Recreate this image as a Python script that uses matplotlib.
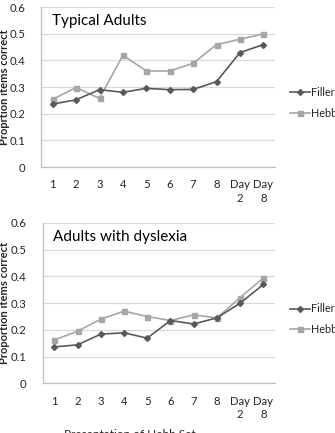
import matplotlib
matplotlib.use("Agg")
import matplotlib.pyplot as plt
import numpy as np

plt.rcParams['font.family'] = ['Lato', 'DejaVu Sans']

categories = ["1", "2", "3", "4", "5", "6", "7", "8", "Day\n2", "Day\n8"]
typical_filler = [0.236, 0.252, 0.290, 0.280, 0.295, 0.290, 0.291, 0.320, 0.429, 0.459]
typical_hebb = [0.254, 0.298, 0.257, 0.419, 0.360, 0.360, 0.389, 0.459, 0.479, 0.499]
dys_filler = [0.136, 0.144, 0.184, 0.189, 0.169, 0.235, 0.222, 0.245, 0.300, 0.370]
dys_hebb = [0.162, 0.195, 0.240, 0.270, 0.250, 0.235, 0.256, 0.245, 0.321, 0.394]
yticks = [0, 0.1, 0.2, 0.3, 0.4, 0.5, 0.6]
ytick_labels = ["0", "0.1", "0.2", "0.3", "0.4", "0.5", "0.6"]

W, H = 335, 433
fig = plt.figure(figsize=(W / 100, H / 100), dpi=100)

DARK = "#595959"
LIGHT = "#a6a6a6"
GRID = "#d9d9d9"
AXIS = "#bfbfbf"
TXT = "#262626"


def panel(rect, left_px, filler, hebb, title, ylabel):
    ax = fig.add_axes(rect)
    x = np.arange(len(categories))
    ax.plot(x, filler, color=DARK, lw=1.2, marker="D", ms=3, label="Filler", zorder=3)
    ax.plot(x, hebb, color=LIGHT, lw=1.2, marker="s", ms=3.6, label="Hebb", zorder=2)
    ax.set_xlim(-0.5, len(categories) - 0.5)
    ax.set_ylim(0, 0.6)
    ax.set_yticks(yticks)
    ax.set_yticklabels(ytick_labels)
    ax.set_xticks(x)
    ax.set_xticklabels(categories, linespacing=1.25)
    ax.tick_params(axis="both", length=0, labelsize=8.2, colors=TXT)
    ax.tick_params(axis="y", pad=11.5)
    ax.tick_params(axis="x", pad=9)
    ax.grid(axis="y", color=GRID, lw=0.9)
    ax.set_axisbelow(True)
    for s in ["top", "right"]:
        ax.spines[s].set_visible(False)
    for s in ["left", "bottom"]:
        ax.spines[s].set_color(AXIS)
        ax.spines[s].set_linewidth(0.9)
    ax.text(0.045, 0.915, title, transform=ax.transAxes, fontsize=11, color="#000000",
            va="center", ha="left")
    ax.set_ylabel(ylabel, fontsize=8, fontweight="bold", color=TXT)
    w_px = rect[2] * W
    ax.yaxis.set_label_coords((10.5 - left_px) / w_px, 0.5)
    ax.legend(loc="center left", bbox_to_anchor=((290 - left_px) / w_px, 0.40),
              frameon=False, borderaxespad=0, borderpad=0,
              fontsize=7.8, handlelength=1.8, handletextpad=0.15, labelspacing=0.9,
              labelcolor=TXT)
    return ax


ax1 = panel([41 / W, 1 - 167 / H, 234 / W, 160 / H], 41, typical_filler, typical_hebb,
            "Typical Adults", "Proprtion items correct")
ax2 = panel([42.7 / W, 1 - 383.3 / H, 232.3 / W, 160.3 / H], 42.7, dys_filler, dys_hebb,
            "Adults with dyslexia", "Proportion items correct")

fig.text(130 / W, 1 - 429.5 / H, "Presentation of Hebb Set", fontsize=8.5, color=TXT,
         ha="center", va="top")

fig.savefig("out.png", dpi=100)
